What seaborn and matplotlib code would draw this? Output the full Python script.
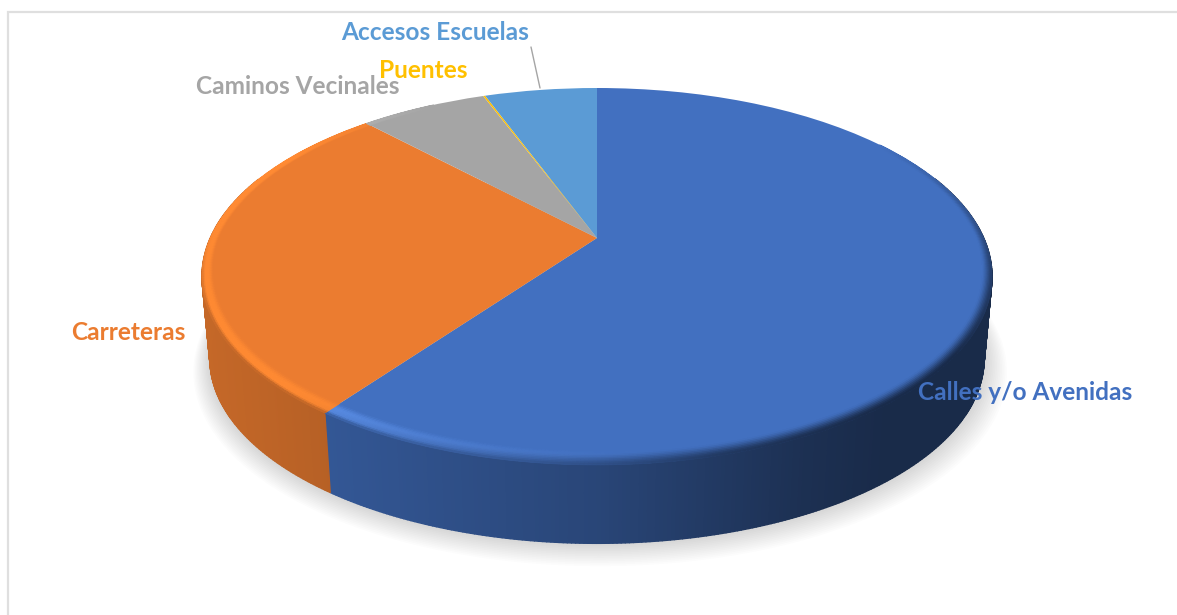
import numpy as np
import matplotlib
matplotlib.use("Agg")
import matplotlib.pyplot as plt
from matplotlib.collections import PolyCollection
from matplotlib.transforms import Transform
import seaborn as sns

# ---- data ----
categories = ["Calles y/o Avenidas", "Carreteras", "Caminos Vecinales", "Puentes", "Accesos Escuelas"]
shares = [60.0, 28.0, 6.3, 0.1, 5.6]
slice_colors = ["#4270C0", "#EB7C30", "#A5A5A5", "#FFC000", "#5B9BD5"]
rim_lights = ["#5B8FE8", "#FF8A33", "#B8B8B8", "#FFD040", "#70B0E8"]

sns.set_theme(style="white")
plt.rcParams["font.family"] = ["Lato", "DejaVu Sans"]
palette = sns.color_palette(slice_colors)
lights = sns.color_palette(rim_lights)

# ---- camera of the tilted disc (figure pixels) ----
CX, CY = 597.0, 238.0
RX, RY, K = 386.7, 180.6, 0.204
DROP, SHRINK = 83.0, 0.98


def project(u, v):
    w = 1 + K * v
    return CX + RX * u / w, CY - RY * v / w


def lower(x, y, s=SHRINK, d=DROP):
    return CX + (x - CX) * s, CY + (y - CY) * s + d


class Tilt(Transform):
    input_dims = 2
    output_dims = 2
    is_affine = False
    has_inverse = False

    def transform_non_affine(self, values):
        values = np.asarray(values, dtype=float)
        x, y = project(values[:, 0], values[:, 1])
        return np.column_stack([x, y])


def sstep(a, b, t):
    z = np.clip((t - a) / (b - a), 0, 1)
    return z * z * (3 - 2 * z)


def wall_shade(x):
    return np.interp(x, [205, 325, 600, 800, 880, 990], [.84, .78, .62, .43, .38, .38])


fig = plt.figure(figsize=(11.77, 6.15), dpi=100)
ax = fig.add_axes([0, 0, 1, 1])

wedges, _ = ax.pie(shares, colors=palette, startangle=90, counterclock=False,
                   wedgeprops={"linewidth": 0})
ax.set_aspect("auto")
ax.set_xlim(0, 1177)
ax.set_ylim(615, 0)
ax.axis("off")

tilt = Tilt() + ax.transData
for w in wedges:
    w.set_transform(tilt)
    w.set_zorder(3)
    w.set_antialiased(True)

# slice angle limits, clockwise from twelve o'clock
edges = np.concatenate([[0], np.cumsum(shares) / np.sum(shares) * 360])

# soft shadow under the disc
tt = np.radians(np.linspace(0, 360, 361))
rx, ry = project(np.sin(tt), np.cos(tt))
for e in np.linspace(1, 21, 14):
    sx, sy = lower(rx, ry, SHRINK + e / 420, DROP + e * 0.55)
    ax.fill(sx + e * 0.15, sy, color="black", alpha=0.013, lw=0, zorder=1)

# outer wall and bevel band of each slice
wall_polys, wall_cols, band_polys, band_cols = [], [], [], []
STEP = 0.5
NT = 10


def wall_rgb(base, xm):
    return np.clip(np.array(base) * wall_shade(xm), 0, 1)


for i, base in enumerate(palette):
    a0, a1 = edges[i], edges[i + 1]
    n = max(2, int(np.ceil((a1 - a0) / STEP)))
    th = np.linspace(a0, a1, n + 1)
    for t0, t1 in zip(th[:-1], th[1:]):
        tm = 0.5 * (t0 + t1)
        r0, r1 = np.radians(t0), np.radians(t1)
        x0, y0 = project(np.sin(r0), np.cos(r0))
        x1, y1 = project(np.sin(r1), np.cos(r1))
        vm = np.cos(np.radians(tm))
        if vm < 0.35:
            lx0, ly0 = lower(x0, y0)
            lx1, ly1 = lower(x1, y1)
            wall_polys.append([(x0, y0), (x1, y1), (lx1, ly1), (lx0, ly0)])
            wall_cols.append(wall_rgb(base, 0.5 * (lx0 + lx1)))

        hi = np.interp(tm, [170, 218, 300, 330], [0.0, 1.0, 1.0, 0.0])
        dk = np.interp(tm, [55, 125, 165, 225], [0.0, 1.0, 1.0, 0.0])
        if hi <= 0 and dk <= 0:
            continue
        width = 0.023 + 0.03 * max(0.0, -vm)
        xm = 0.5 * (x0 + x1)
        edge_on = sstep(0.1, -0.5, vm)
        for j in range(NT):
            q0, q1 = j / NT, (j + 1) / NT
            qm = 0.5 * (q0 + q1)
            ra, rb = 1 - width * (1 - q0), 1 - width * (1 - q1)
            pa = project(ra * np.sin(r0), ra * np.cos(r0))
            pb = project(ra * np.sin(r1), ra * np.cos(r1))
            pc = project(rb * np.sin(r1), rb * np.cos(r1))
            pd = project(rb * np.sin(r0), rb * np.cos(r0))
            col = np.array(base)
            col = col + hi * sstep(0.0, 0.5, qm) * (np.array(lights[i]) - col)
            wc = wall_rgb(base, xm)
            col = col + dk * sstep(0.15, 1.0, qm) * (wc - col)
            col = col + (1 - dk) * edge_on * sstep(0.75, 1.0, qm) * (wc - col)
            band_polys.append([pa, pb, pc, pd])
            band_cols.append(col)

ax.add_collection(PolyCollection(wall_polys, facecolors=wall_cols, edgecolors=wall_cols,
                                 linewidths=1.0, zorder=2), autolim=False)
ax.add_collection(PolyCollection(band_polys, facecolors=band_cols, edgecolors=band_cols,
                                 linewidths=0.6, zorder=4), autolim=False)

# chart frame
ax.plot([8, 8, 1177], [615, 11.5, 11.5], color="#DFDFDF", lw=1.6, zorder=0, solid_joinstyle="miter")

# leader line
ax.plot([531, 540], [47, 88], color="#A5A5A5", lw=1.0, zorder=5)

# labels
label_pos = {0: (918, 392), 1: (71, 332), 2: (196, 86), 3: (379, 71), 4: (341, 33)}
for idx in [2, 3, 4, 1, 0]:
    x, y = label_pos[idx]
    ax.text(x, y, categories[idx], color=palette[idx], fontsize=17.6, fontweight="bold",
            ha="left", va="center", zorder=6)

fig.savefig("out.png", dpi=100, facecolor="white")
